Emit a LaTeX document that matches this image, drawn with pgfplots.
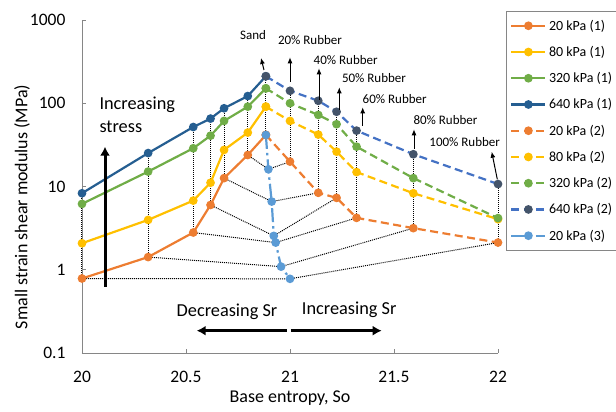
\documentclass[border=0pt]{standalone}
\usepackage{pgfplots}
\pgfplotsset{compat=1.18}
\usetikzlibrary{arrows.meta}
\usepackage{fontspec}
\setmainfont{Carlito}
\definecolor{c20}{HTML}{ED7D31}
\definecolor{c80}{HTML}{FFC000}
\definecolor{c320}{HTML}{70AD47}
\definecolor{c640}{HTML}{255E91}
\definecolor{c640b}{HTML}{4472C4}
\definecolor{c640m}{HTML}{44546A}
\definecolor{clb}{HTML}{5B9BD5}
\definecolor{axgray}{HTML}{868686}
\begin{document}
\begin{tikzpicture}
\path[use as bounding box] (-82pt,-59pt) rectangle (534pt,353pt);
\begin{axis}[
  at={(0pt,0pt)}, anchor=south west,
  scale only axis, width=416pt, height=333pt,
  xmin=20, xmax=22, ymode=log, ymin=0.1, ymax=1000,
  axis x line=bottom, axis y line=left,
  axis line style={-, draw=axgray, line width=0.9pt},
  tick align=inside, major tick length=4pt,
  tick style={draw=axgray, line width=0.8pt},
  yminorticks=false,
  xtick={20,20.5,21,21.5,22}, xticklabels={20,20.5,21,21.5,22},
  ytick={0.1,1,10,100,1000}, yticklabels={0.1,1,10,100,1000},
  tick label style={font=\fontsize{17.5}{20}\selectfont},
  yticklabel style={xshift=-13pt},
  xticklabel style={yshift=-15pt},
  xlabel={Base entropy, So},
  ylabel={Small strain shear modulus (MPa)},
  label style={font=\fontsize{18}{21}\selectfont},
  xlabel style={at={(axis description cs:0.5,0)}, anchor=center, yshift=-45pt},
  ylabel style={at={(axis description cs:-0.1442,0.439)}, anchor=center},
  clip=false,
  legend style={at={(axis description cs:1.019,1.027)}, anchor=north west,
    draw=axgray, line width=0.8pt, font=\fontsize{14}{16}\selectfont,
    row sep=9.5pt, inner xsep=4pt, inner ysep=6pt,
    nodes={inner sep=2.5pt}},
  legend cell align=left,
  legend image code/.code={\draw[mark repeat=2,mark phase=2,#1] plot coordinates {(0pt,0pt) (17pt,0pt) (34pt,0pt)};},
  ser/.style={line width=2.2pt, mark=*, mark size=3.2pt},
  dots/.style={forget plot, black, line width=1pt, dash pattern=on 1pt off 1pt, mark=none},
]
% series (1): solid
\addplot[ser, c20, solid, mark options={solid}] coordinates {(20.0,0.785) (20.318,1.42) (20.535,2.8) (20.618,6.0) (20.683,12.6) (20.797,23.9) (20.884,41.6)};
\addlegendentry{20 kPa (1)}
\addplot[ser, c80, solid, mark options={solid}] coordinates {(20.0,2.08) (20.318,3.97) (20.535,6.77) (20.618,11.1) (20.683,27.5) (20.797,44.4) (20.884,91)};
\addlegendentry{80 kPa (1)}
\addplot[ser, c320, solid, mark options={solid}] coordinates {(20.0,6.18) (20.318,15.1) (20.535,28.8) (20.618,40.8) (20.683,61.3) (20.797,91) (20.884,151)};
\addlegendentry{320 kPa (1)}
\addplot[ser, c640, solid, mark options={solid}] coordinates {(20.0,8.3) (20.318,25.2) (20.535,51.8) (20.618,65.4) (20.683,87) (20.797,122) (20.884,211)};
\addlegendentry{640 kPa (1)}
% series (2): dashed
\addplot[ser, c20, dash pattern=on 8pt off 4.5pt, mark options={solid}] coordinates {(20.884,41.6) (21.0,19.9) (21.136,8.4) (21.224,7.3) (21.32,4.2) (21.593,3.16) (22.0,2.12)};
\addlegendentry{20 kPa (2)}
\addplot[ser, c80, dash pattern=on 8pt off 4.5pt, mark options={solid}] coordinates {(20.884,91) (21.0,61.3) (21.136,42) (21.224,26.2) (21.32,14.9) (21.593,8.3) (22.0,4.05)};
\addlegendentry{80 kPa (2)}
\addplot[ser, c320, dash pattern=on 8pt off 4.5pt, mark options={solid}] coordinates {(20.884,151) (21.0,100) (21.136,72.4) (21.224,56) (21.32,30.1) (21.593,12.6) (22.0,4.17)};
\addlegendentry{320 kPa (2)}
\addplot[ser, c640b, dash pattern=on 8pt off 4.5pt, mark options={solid, draw=c640m, fill=c640m}] coordinates {(20.884,211) (21.0,141) (21.136,107) (21.224,79) (21.32,46.9) (21.593,24.4) (22.0,10.7)};
\addlegendentry{640 kPa (2)}
% series (3): dash-dot
\addplot[ser, clb, dash pattern=on 14pt off 4pt on 2.5pt off 4pt, mark options={solid}] coordinates {(20.884,41.6) (20.896,16.1) (20.912,6.59) (20.922,2.55) (20.931,2.12) (20.957,1.09) (21.0,0.778)};
\addlegendentry{20 kPa (3)}
% dotted connecting lines
\addplot[dots] coordinates {(20.0,0.785) (21.0,0.778) (22.0,2.12)};
\addplot[dots] coordinates {(20.318,1.42) (20.957,1.09) (21.593,3.16)};
\addplot[dots] coordinates {(20.535,2.8) (20.931,2.12) (21.32,4.2)};
\addplot[dots] coordinates {(20.618,6.0) (20.922,2.55) (21.224,7.3)};
\addplot[dots] coordinates {(20.683,12.6) (20.912,6.59) (21.136,8.4)};
\addplot[dots] coordinates {(20.797,23.9) (20.896,16.1) (21.0,19.9)};
% vertical dotted lines
\addplot[dots] coordinates {(20.0,0.785) (20.0,8.3)};
\addplot[dots] coordinates {(20.318,1.42) (20.318,25.2)};
\addplot[dots] coordinates {(20.535,2.8) (20.535,51.8)};
\addplot[dots] coordinates {(20.618,6.0) (20.618,65.4)};
\addplot[dots] coordinates {(20.683,12.6) (20.683,87)};
\addplot[dots] coordinates {(20.797,23.9) (20.797,122)};
\addplot[dots] coordinates {(20.884,41.6) (20.884,211)};
\addplot[dots] coordinates {(21.0,19.9) (21.0,141)};
\addplot[dots] coordinates {(21.136,8.4) (21.136,107)};
\addplot[dots] coordinates {(21.224,7.3) (21.224,79)};
\addplot[dots] coordinates {(21.32,4.2) (21.32,46.9)};
\addplot[dots] coordinates {(21.593,3.16) (21.593,24.4)};
\addplot[dots] coordinates {(22.0,2.12) (22.0,10.7)};
\end{axis}
% annotations (1pt = 1px, axis lower-left at origin)
\begin{scope}[x=1pt,y=1pt,font=\fontsize{13}{15}\selectfont]
\node at (171,318) {Sand};
\node at (228,313) {20\% Rubber};
\node at (263.7,293) {40\% Rubber};
\node at (292,274.7) {50\% Rubber};
\node at (312.7,254) {60\% Rubber};
\node at (363.5,233) {80\% Rubber};
\node at (382.7,211.3) {100\% Rubber};
\end{scope}
\begin{scope}[x=1pt,y=1pt,line width=1pt,-{Latex[length=6pt,width=5pt]}]
\draw (182,283) -- (179,295);
\draw (208,271.3) -- (208,295.7);
\draw (237,253) -- (237,284.7);
\draw (257.3,243) -- (257.3,265.7);
\draw (280.7,227) -- (280.7,245.7);
\draw (332,204) -- (332,223.7);
\draw (415.3,173.7) -- (409.7,201.3);
\end{scope}
\begin{scope}[x=1pt,y=1pt,font=\fontsize{18.3}{22.7}\selectfont]
\node[anchor=base west, inner sep=0pt] at (17.3,243) {Increasing};
\node[anchor=base west, inner sep=0pt] at (17.3,220.3) {stress};
\node at (145,41.3) {Decreasing Sr};
\node at (267.2,43.7) {Increasing Sr};
\draw[line width=3pt,-{Latex[length=9pt,width=10pt]}] (23,66.3) -- (23,206.3);
\draw[line width=3pt,-{Latex[length=9pt,width=10pt]}] (204.7,22.3) -- (114.7,22.3);
\draw[line width=3pt,-{Latex[length=9pt,width=10pt]}] (208.7,22.3) -- (299.7,22.3);
\end{scope}
\end{tikzpicture}
\end{document}
